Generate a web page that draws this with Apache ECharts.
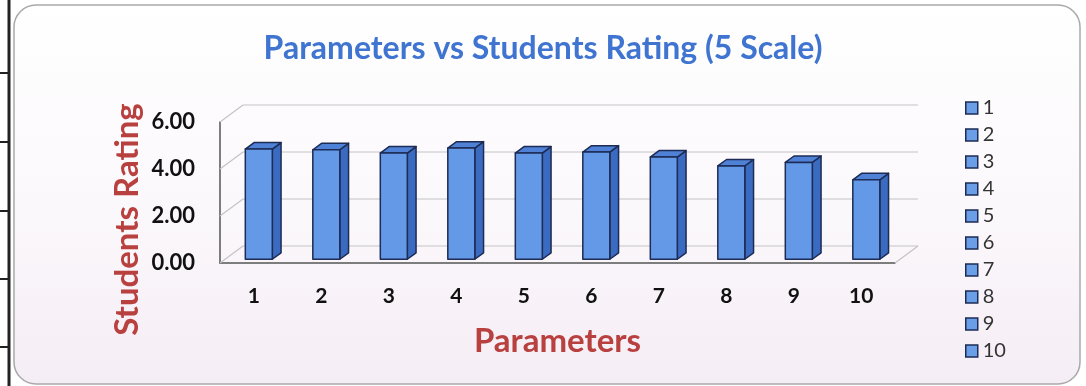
<!DOCTYPE html>
<html>
<head>
<meta charset="utf-8">
<script src="https://cdn.jsdelivr.net/npm/echarts@6/dist/echarts.min.js"></script>
<style>
  html, body { margin: 0; padding: 0; background: #fff; }
  #chart { width: 1086px; height: 386px; }
</style>
</head>
<body>
<div id="chart"></div>
<script>
var categories = ['1', '2', '3', '4', '5', '6', '7', '8', '9', '10']
var ratings = [4.69, 4.66, 4.52, 4.73, 4.52, 4.56, 4.35, 3.97, 4.12, 3.38]
var yTicks = [0, 2, 4, 6]

// 3D look: offset of the back wall, and where the bars sit in that depth
var DEPTH = [23, -17]
var BAR_FRONT = 0.22
var BAR_DEPTH = 0.38

var font = 'Lato'
var dark = '#1d2b55'

function renderBar(params, api) {
  var x = api.value(0)
  var v = api.value(1)
  var base = api.coord([x, 0])
  var top = api.coord([x, v])
  var band = api.size([1, 0])[0]
  var w = band * 0.4
  var ox = DEPTH[0] * BAR_FRONT
  var oy = DEPTH[1] * BAR_FRONT
  var dx = DEPTH[0] * BAR_DEPTH
  var dy = DEPTH[1] * BAR_DEPTH
  var l = base[0] - w / 2 + ox
  var r = l + w
  var t = top[1] + oy
  var b = base[1] + oy
  var stroke = { stroke: dark, lineWidth: 1.5, lineJoin: 'round' }
  return {
    type: 'group',
    children: [
      { type: 'polygon', shape: { points: [[r, t], [r + dx, t + dy], [r + dx, b + dy], [r, b]] },
        style: Object.assign({ fill: '#3a6bc0' }, stroke) },
      { type: 'polygon', shape: { points: [[l, t], [l + dx, t + dy], [r + dx, t + dy], [r, t]] },
        style: Object.assign({ fill: '#4f82d6' }, stroke) },
      { type: 'rect', shape: { x: l, y: t, width: w, height: b - t },
        style: Object.assign({ fill: '#6399e6' }, stroke) }
    ]
  }
}

function renderWall(params, api) {
  var v = api.value(1)
  var band = api.size([1, 0])[0]
  var p = api.coord([0, v])
  var left = p[0] - band / 2
  var right = api.coord([categories.length - 1, v])[0] + band / 2
  var y = p[1]
  var style = { stroke: '#c4c4c4', lineWidth: 1.2 }
  var children = [
    { type: 'line', shape: { x1: left, y1: y, x2: left + DEPTH[0], y2: y + DEPTH[1] }, style: style },
    { type: 'line', shape: { x1: left + DEPTH[0], y1: y + DEPTH[1], x2: right + DEPTH[0], y2: y + DEPTH[1] }, style: style }
  ]
  if (v === 0) {
    children.push({ type: 'line', shape: { x1: right, y1: y, x2: right + DEPTH[0], y2: y + DEPTH[1] }, style: style })
  }
  return { type: 'group', children: children }
}

var series = [{
  type: 'custom',
  name: 'wall',
  renderItem: renderWall,
  data: yTicks.map(function(v) { return [0, v] }),
  silent: true,
  z: 1
}]
categories.forEach(function(c, i) {
  series.push({
    type: 'custom',
    name: c,
    renderItem: renderBar,
    itemStyle: { color: '#5b92e0' },
    data: [[i, ratings[i]]],
    z: 3
  })
})

var chart = echarts.init(document.getElementById('chart'))
chart.setOption({
  backgroundColor: '#fff',
  animation: false,
  graphic: [
    { type: 'rect', z: -10, shape: { x: 14, y: 5, width: 1066, height: 379, r: 22 },
      style: {
        fill: new echarts.graphic.LinearGradient(0, 0, 0, 1, [
          { offset: 0, color: '#ffffff' },
          { offset: 0.55, color: '#fbf8fb' },
          { offset: 1, color: '#f5edf5' }
        ]),
        stroke: '#a9a9a9', lineWidth: 1.5
      } },
    { type: 'line', z: -5, shape: { x1: 9, y1: 0, x2: 9, y2: 386 }, style: { stroke: '#222', lineWidth: 3 } },
    { type: 'line', z: -5, shape: { x1: 0, y1: 73, x2: 9, y2: 73 }, style: { stroke: '#222', lineWidth: 2 } },
    { type: 'line', z: -5, shape: { x1: 0, y1: 142, x2: 9, y2: 142 }, style: { stroke: '#222', lineWidth: 2 } },
    { type: 'line', z: -5, shape: { x1: 0, y1: 211, x2: 9, y2: 211 }, style: { stroke: '#222', lineWidth: 2 } },
    { type: 'line', z: -5, shape: { x1: 0, y1: 279, x2: 9, y2: 279 }, style: { stroke: '#222', lineWidth: 2 } },
    { type: 'line', z: -5, shape: { x1: 0, y1: 347, x2: 9, y2: 347 }, style: { stroke: '#222', lineWidth: 2 } }
  ],
  title: {
    text: 'Parameters vs Students Rating (5 Scale)',
    left: 'center',
    top: 28,
    textStyle: { fontFamily: font, fontWeight: 'bold', fontSize: 32, color: '#3f74d0' }
  },
  legend: {
    data: categories,
    orient: 'vertical',
    left: 960,
    top: 93,
    itemWidth: 12,
    itemHeight: 12,
    itemGap: 7,
    icon: 'rect',
    itemStyle: { color: '#6a9ee6', borderColor: dark, borderWidth: 1.5 },
    textStyle: { fontFamily: font, fontSize: 20, color: '#333' }
  },
  grid: { left: 220, right: 191, top: 122, bottom: 123 },
  xAxis: {
    type: 'category',
    data: categories,
    name: 'Parameters',
    nameLocation: 'middle',
    nameGap: 62,
    nameTextStyle: { fontFamily: font, fontWeight: 'bold', fontSize: 33, color: '#b8413f' },
    axisLine: { lineStyle: { color: '#555', width: 1.5 } },
    axisTick: { show: false },
    axisLabel: { margin: 23, fontFamily: font, fontWeight: 'bold', fontSize: 21, color: '#111' }
  },
  yAxis: {
    type: 'value',
    min: 0,
    max: 6,
    interval: 2,
    name: 'Students Rating',
    nameLocation: 'middle',
    nameGap: 76,
    nameMoveOverlap: false,
    nameTextStyle: {
      fontFamily: font, fontWeight: 'bold', fontSize: 33, color: '#b8413f',
      padding: [0, 54, 0, 0]
    },
    axisLine: { show: true, lineStyle: { color: '#555', width: 1.5 } },
    axisTick: { show: false },
    splitLine: { show: false },
    axisLabel: {
      margin: 25, fontFamily: font, fontWeight: 'bold', fontSize: 22, color: '#111',
      formatter: function(v) { return v.toFixed(2) }
    }
  },
  series: series
})
</script>
</body>
</html>
